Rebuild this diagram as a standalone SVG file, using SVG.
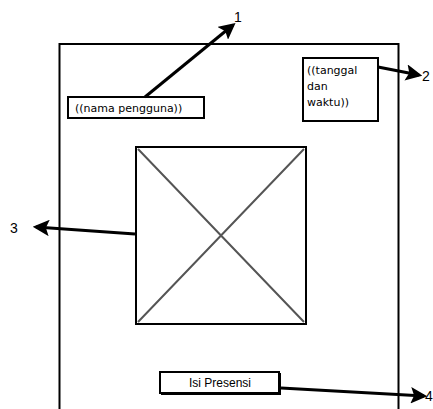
<svg xmlns="http://www.w3.org/2000/svg" width="433" height="409" viewBox="0 0 433 409">
<style>
.box{fill:#fff;stroke:#000;stroke-width:2}
.sk{font-family:"DejaVu Sans",sans-serif;font-size:11px;fill:#000}
.num{font-family:"Liberation Sans",Arial,sans-serif;font-size:14px;fill:#000}
.conn{stroke:#000;stroke-width:3;fill:none;marker-end:url(#ah)}
</style>
<defs>
<marker id="ah" viewBox="0 0 10 10" refX="8" refY="5" markerWidth="5.5" markerHeight="5.5" orient="auto" markerUnits="strokeWidth">
<path d="M0,0 L10,5 L0,10 L2,5 Z" fill="#000"/>
</marker>
</defs>
<rect width="433" height="409" fill="#fff"/>
<g id="frame"><path d="M59.5,412 V44 H398.5 V412" fill="none" stroke="#000" stroke-width="2"/></g>
<g id="nama"><rect class="box" x="68" y="97" width="136" height="21"/><text class="sk" x="75" y="112">((nama pengguna))</text></g>
<g id="tanggal"><rect class="box" x="303" y="58" width="75" height="63"/><text class="sk" x="307" y="74">((tanggal</text><text class="sk" x="307" y="90">dan</text><text class="sk" x="307" y="106">waktu))</text></g>
<g id="gambar"><rect class="box" x="136" y="147" width="170" height="177"/><path d="M138,149 L304,322 M304,149 L138,322" stroke="#555" stroke-width="2"/></g>
<g id="tombol"><rect x="161" y="373" width="120" height="22" fill="#000"/><rect class="box" x="160" y="372" width="119" height="21"/><text x="220" y="387" text-anchor="middle" style="font-family:'Liberation Sans',Arial,sans-serif;font-size:12px">Isi Presensi</text></g>
<g id="connectors">
<line class="conn" x1="145" y1="97" x2="233" y2="25"/>
<line class="conn" x1="378" y1="67" x2="419" y2="75"/>
<line class="conn" x1="135" y1="234" x2="36" y2="227"/>
<line class="conn" x1="281" y1="388" x2="424" y2="396"/>
</g>
<g id="labels">
<text class="num" x="234" y="22">1</text>
<text class="num" x="422" y="81">2</text>
<text class="num" x="10" y="233">3</text>
<text class="num" x="425" y="401">4</text>
</g>
</svg>
